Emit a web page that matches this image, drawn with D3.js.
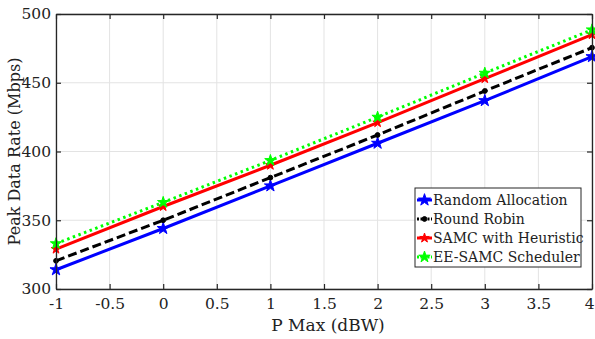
<!DOCTYPE html>
<html>
<head>
<meta charset="utf-8">
<script src="https://cdn.jsdelivr.net/npm/d3@7"></script>
<style>
  html, body { margin: 0; padding: 0; background: #fff; }
  svg { display: block; }
</style>
</head>
<body>
<svg id="chart" width="595" height="339"></svg>
<script>
// Transmit power levels (dBW)
const pMax = [-1, 0, 1, 2, 3, 4];

// Peak data rate per scheduler (Mbps)
const randomAllocation = [314, 344, 375, 406, 437, 469];
const roundRobin       = [320.5, 350, 381, 412, 444, 475.5];
const samcHeuristic    = [329, 360, 390, 421, 453, 485];
const eeSamc           = [333, 363, 393.5, 425, 457, 488.5];

const seriesNames = ["Random Allocation", "Round Robin", "SAMC with Heuristic", "EE-SAMC Scheduler"];

const xTicks = [-1, -0.5, 0, 0.5, 1, 1.5, 2, 2.5, 3, 3.5, 4];
const yTicks = [300, 350, 400, 450, 500];

const serif = "DejaVu Serif";
const ink = "#262626";

const svg = d3.select("#chart");
const margin = { left: 56, right: 3, top: 14, bottom: 50 };
const W = 595, H = 339;
const x0 = margin.left, x1 = W - margin.right;
const y0 = H - margin.bottom, y1 = margin.top;

const x = d3.scaleLinear().domain([-1, 4]).range([x0, x1]);
const y = d3.scaleLinear().domain([300, 500]).range([y0, y1]);

// grid
const grid = svg.append("g");
grid.selectAll("line.vx").data(xTicks).join("line")
  .attr("x1", d => x(d)).attr("x2", d => x(d))
  .attr("y1", y1).attr("y2", y0)
  .attr("stroke", "#e3e3e3").attr("stroke-width", 1);
grid.selectAll("line.hy").data(yTicks).join("line")
  .attr("x1", x0).attr("x2", x1)
  .attr("y1", d => y(d)).attr("y2", d => y(d))
  .attr("stroke", "#e3e3e3").attr("stroke-width", 1);

// series definitions
const series = [
  { name: seriesNames[0], values: randomAllocation, color: "#0000ff", dash: null, marker: "star", size: 45 },
  { name: seriesNames[1], values: roundRobin, color: "#000000", dash: "9,4", marker: "circle", size: 18 },
  { name: seriesNames[2], values: samcHeuristic, color: "#ff0000", dash: null, marker: "star", size: 28 },
  { name: seriesNames[3], values: eeSamc, color: "#00ff00", dash: "2.5,3.5", marker: "star", size: 40 }
];

const line = d3.line().x(d => x(d[0])).y(d => y(d[1]));
const symType = m => m === "circle" ? d3.symbolCircle : d3.symbolStar;

const plot = svg.append("g");
series.forEach(s => {
  const pts = pMax.map((p, i) => [p, s.values[i]]);
  plot.append("path")
    .attr("d", line(pts))
    .attr("fill", "none")
    .attr("stroke", s.color)
    .attr("stroke-width", 3)
    .attr("stroke-dasharray", s.dash);
  plot.selectAll(null).data(pts).join("path")
    .attr("transform", d => `translate(${x(d[0])},${y(d[1])})`)
    .attr("d", d3.symbol().type(symType(s.marker)).size(s.size))
    .attr("fill", s.color)
    .attr("stroke", s.color)
    .attr("stroke-width", 1);
});

// axes (box with inward ticks)
const fmt = d => d3.format("~g")(d).replace("\u2212", "-");
const xAxisB = d3.axisBottom(x).tickValues(xTicks).tickSizeInner(-5).tickSizeOuter(0)
  .tickPadding(9).tickFormat(fmt);
const xAxisT = d3.axisTop(x).tickValues(xTicks).tickSizeInner(-5).tickSizeOuter(0).tickFormat("");
const yAxisL = d3.axisLeft(y).tickValues(yTicks).tickSizeInner(-5).tickSizeOuter(0).tickPadding(5);
const yAxisR = d3.axisRight(y).tickValues(yTicks).tickSizeInner(-5).tickSizeOuter(0).tickFormat("");

function styleAxis(g) {
  g.attr("font-family", serif);
  g.selectAll("path.domain").attr("stroke", ink).attr("stroke-width", 1.3);
  g.selectAll("line").attr("stroke", ink).attr("stroke-width", 1.2);
  g.selectAll("text").attr("font-size", 15.5).attr("fill", "#222");
}

const gx = svg.append("g").attr("transform", `translate(0,${y0})`).call(xAxisB).call(styleAxis);
svg.append("g").attr("transform", `translate(0,${y1})`).call(xAxisT).call(styleAxis);
svg.append("g").attr("transform", `translate(${x0},0)`).call(yAxisL).call(styleAxis);
svg.append("g").attr("transform", `translate(${x1},0)`).call(yAxisR).call(styleAxis);

// keep the last x label inside the frame
gx.selectAll(".tick text").filter(d => d === 4)
  .attr("text-anchor", "end").attr("dx", 2);

// axis titles
svg.append("text")
  .attr("x", (x0 + x1) / 2 + 4).attr("y", 331)
  .attr("text-anchor", "middle").attr("font-size", 17)
  .attr("font-family", serif).attr("fill", "#222")
  .text("P Max (dBW)");
svg.append("text")
  .attr("transform", `translate(20,${(y0 + y1) / 2}) rotate(-90)`)
  .attr("text-anchor", "middle").attr("font-size", 16)
  .attr("font-family", serif).attr("fill", "#222")
  .text("Peak Data Rate (Mbps)");

// legend
const lg = svg.append("g").attr("transform", "translate(415,188)");
lg.append("rect").attr("width", 166).attr("height", 79)
  .attr("fill", "#fff").attr("stroke", ink).attr("stroke-width", 1);
series.forEach((s, i) => {
  const ly = 12 + i * 19;
  lg.append("line").attr("x1", 2).attr("x2", 17).attr("y1", ly).attr("y2", ly)
    .attr("stroke", s.color).attr("stroke-width", 3)
    .attr("stroke-dasharray", s.dash ? "2,1.5" : null);
  lg.append("path").attr("transform", `translate(9.5,${ly})`)
    .attr("d", d3.symbol().type(symType(s.marker)).size(s.size))
    .attr("fill", s.color).attr("stroke", s.color);
  lg.append("text").attr("x", 18).attr("y", ly).attr("dy", "0.35em")
    .attr("font-size", 14).attr("font-family", serif).attr("fill", "#222").text(s.name);
});
</script>
</body>
</html>
